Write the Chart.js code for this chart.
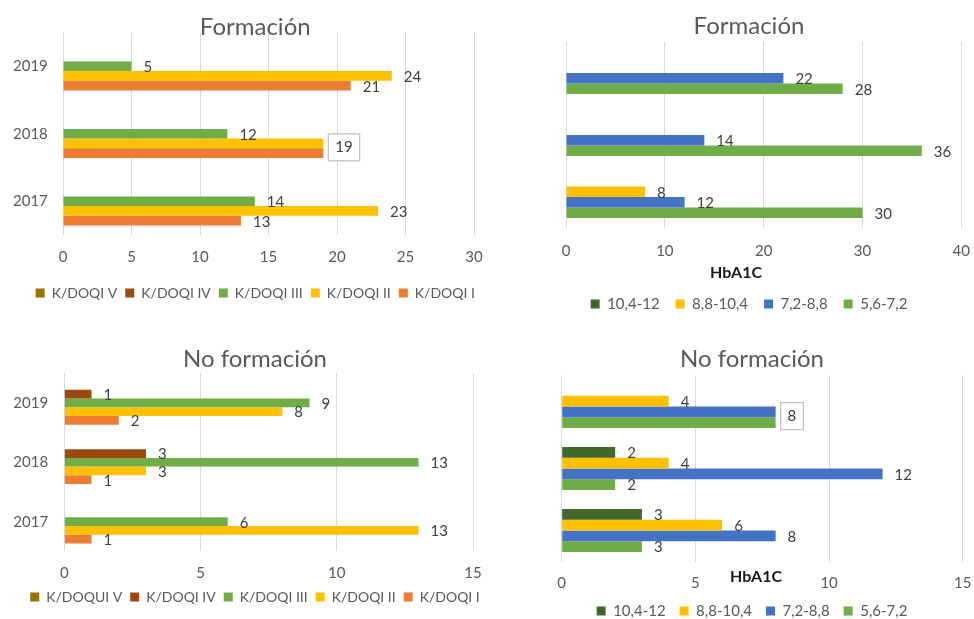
<!DOCTYPE html>
<html>
<head>
<meta charset="utf-8">
<title>Formación / No formación</title>
<script src="https://cdn.jsdelivr.net/npm/chart.js@4.4.0/dist/chart.umd.min.js"></script>
<style>
  html, body { margin: 0; padding: 0; background: #fff; }
  body { width: 974px; height: 619px; overflow: hidden; position: relative; }
  .pane { position: absolute; }
</style>
</head>
<body>
<div class="pane" style="left:0;top:0;width:492px;height:312px"><canvas id="chart1"></canvas></div>
<div class="pane" style="left:487px;top:0;width:497px;height:330px"><canvas id="chart2"></canvas></div>
<div class="pane" style="left:0;top:310px;width:492px;height:309px"><canvas id="chart3"></canvas></div>
<div class="pane" style="left:487px;top:310px;width:497px;height:325px"><canvas id="chart4"></canvas></div>
<script>
// categories, top to bottom
const years = ['2019', '2018', '2017'];

// K/DOQI series (legend order)
const kdoqiNames = ['K/DOQI V', 'K/DOQI IV', 'K/DOQI III', 'K/DOQI II', 'K/DOQI I'];
const kdoqiNamesNo = ['K/DOQUI V', 'K/DOQI IV', 'K/DOQI III', 'K/DOQI II', 'K/DOQI I'];
const kdoqiColors = ['#997300', '#9E480E', '#70AD47', '#FFC000', '#ED7D31'];

// Formación - K/DOQI (2019, 2018, 2017)
const formK5 = [null, null, null];
const formK4 = [null, null, null];
const formK3 = [5, 12, 14];
const formK2 = [24, 19, 23];
const formK1 = [21, 19, 13];

// No formación - K/DOQI
const noFormK5 = [null, null, null];
const noFormK4 = [1, 3, null];
const noFormK3 = [9, 13, 6];
const noFormK2 = [8, 3, 13];
const noFormK1 = [2, 1, 1];

// HbA1C series
const hbaNames = ['10,4-12', '8,8-10,4', '7,2-8,8', '5,6-7,2'];
const hbaColors = ['#43682B', '#FFC000', '#4472C4', '#70AD47'];

// Formación - HbA1C
const formH4 = [null, null, null];
const formH3 = [null, null, 8];
const formH2 = [22, 14, 12];
const formH1 = [28, 36, 30];

// No formación - HbA1C
const noFormH4 = [null, 2, 3];
const noFormH3 = [4, 4, 6];
const noFormH2 = [8, 12, 8];
const noFormH1 = [8, 2, 3];

Chart.defaults.font.family = 'Lato, "Open Sans", sans-serif';
Chart.defaults.color = '#595959';

// value labels at the end of each bar; two equal neighbours share one boxed label
const valueLabels = {
    id: 'valueLabels',
    afterDatasetsDraw(chart) {
        const ctx = chart.ctx;
        const sets = chart.data.datasets;
        ctx.save();
        ctx.font = '15px Lato, "Open Sans", sans-serif';
        ctx.textBaseline = 'middle';
        ctx.textAlign = 'left';
        chart.data.labels.forEach((lab, i) => {
            for (let d = 0; d < sets.length; d++) {
                const v = sets[d].data[i];
                if (v == null) continue;
                const bar = chart.getDatasetMeta(d).data[i];
                const next = d + 1 < sets.length ? sets[d + 1].data[i] : null;
                if (next === v) {
                    const bar2 = chart.getDatasetMeta(d + 1).data[i];
                    const y = (bar.y + bar2.y) / 2 - 1;
                    const x = Math.max(bar.x, bar2.x) + 12;
                    const w = ctx.measureText(String(v)).width;
                    ctx.fillStyle = '#fff';
                    ctx.fillRect(x - 7, y - 13.5, w + 14, 27);
                    ctx.strokeStyle = '#BFBFBF';
                    ctx.lineWidth = 1.2;
                    ctx.strokeRect(x - 7, y - 13.5, w + 14, 27);
                    ctx.fillStyle = '#404040';
                    ctx.fillText(String(v), x, y);
                    d++;
                } else {
                    ctx.fillStyle = '#404040';
                    ctx.fillText(String(v), bar.x + 12, bar.y + 1);
                }
            }
        });
        ctx.restore();
    }
};

// bold axis caption placed like the original
const axisCaption = {
    id: 'axisCaption',
    afterDraw(chart, args, opts) {
        if (!opts.text) return;
        const ctx = chart.ctx;
        ctx.save();
        ctx.font = 'bold 16px Lato, "Open Sans", sans-serif';
        ctx.fillStyle = '#1a1a1a';
        ctx.textAlign = 'center';
        ctx.textBaseline = 'middle';
        ctx.fillText(opts.text, opts.x, opts.y);
        ctx.restore();
    }
};

function buildSets(names, colors, series, catPct) {
    return names.map((name, k) => ({
        label: name,
        data: series[k],
        backgroundColor: colors[k],
        borderWidth: 0,
        barPercentage: 1,
        categoryPercentage: catPct,
    }));
}

function makeChart(id, title, sets, cfg) {
    return new Chart(document.getElementById(id), {
        type: 'bar',
        data: { labels: years, datasets: sets },
        options: {
            indexAxis: 'y',
            animation: false,
            responsive: true,
            maintainAspectRatio: false,
            layout: { padding: { left: cfg.padL, right: cfg.padR, top: 0, bottom: cfg.padB } },
            plugins: {
                title: {
                    display: true,
                    text: title,
                    color: '#595959',
                    font: { size: 24, weight: 'normal' },
                    padding: { top: cfg.titleTop, bottom: cfg.titleBottom },
                },
                legend: {
                    position: 'bottom',
                    labels: {
                        color: '#595959',
                        font: { size: cfg.legendSize },
                        boxWidth: 9,
                        boxHeight: 9,
                        padding: cfg.legendPad,
                    }
                },
                tooltip: { enabled: false },
                axisCaption: cfg.caption || {},
            },
            scales: {
                x: {
                    min: 0,
                    max: cfg.max,
                    ticks: { stepSize: cfg.step, color: '#595959', font: { size: 15 }, padding: cfg.tickPad },
                    grid: { color: '#D9D9D9', drawTicks: false },
                    border: { display: false },
                    afterFit(scale) {
                        scale.height = cfg.xHeight;
                        if (cfg.gapR) scale.paddingRight = cfg.gapR;
                    },
                },
                y: {
                    ticks: { display: cfg.yTicks, mirror: true, padding: cfg.yLabelX, color: '#595959', font: { size: 15 } },
                    grid: { display: false },
                    border: { display: false },
                    afterFit(scale) { scale.width = cfg.yWidth; },
                }
            }
        },
        plugins: [valueLabels, axisCaption],
    });
}

makeChart('chart1', 'Formación',
    buildSets(kdoqiNames, kdoqiColors, [formK5, formK4, formK3, formK2, formK1], 0.72),
    { max: 30, step: 5, padL: 18.5, padR: 0, gapR: 18, padB: 2, yWidth: 44.5, xHeight: 43, tickPad: 13,
      titleTop: 12.6, titleBottom: -8.9, legendPad: 8, legendSize: 14, yTicks: true, yLabelX: -50 });

makeChart('chart2', 'Formación',
    buildSets(hbaNames, hbaColors, [formH4, formH3, formH2, formH1], 0.68),
    { max: 40, step: 10, padL: 46, padR: 19, padB: 8.5, yWidth: 33, xHeight: 52.5, tickPad: 14,
      titleTop: 11.6, titleBottom: 1.6, legendPad: 16, legendSize: 15, yTicks: false, yLabelX: 0,
      caption: { text: 'HbA1C', x: 249, y: 273 } });

makeChart('chart3', 'No formación',
    buildSets(kdoqiNamesNo, kdoqiColors, [noFormK5, noFormK4, noFormK3, noFormK2, noFormK1], 0.736),
    { max: 15, step: 5, padL: 18, padR: 0, gapR: 19, padB: 5, yWidth: 46.3, xHeight: 30.6, tickPad: 12.6,
      titleTop: 34.6, titleBottom: -0.3, legendPad: 8, legendSize: 14, yTicks: true, yLabelX: -51 });

makeChart('chart4', 'No formación',
    buildSets(hbaNames, hbaColors, [noFormH4, noFormH3, noFormH2, noFormH1], 0.69),
    { max: 15, step: 5, padL: 50.3, padR: 17.3, padB: 6.5, yWidth: 24.4, xHeight: 28, tickPad: 12.5,
      titleTop: 34.6, titleBottom: 2.1, legendPad: 14, legendSize: 15, yTicks: false, yLabelX: 0,
      caption: { text: 'HbA1C', x: 269, y: 267 } });
</script>
</body>
</html>
